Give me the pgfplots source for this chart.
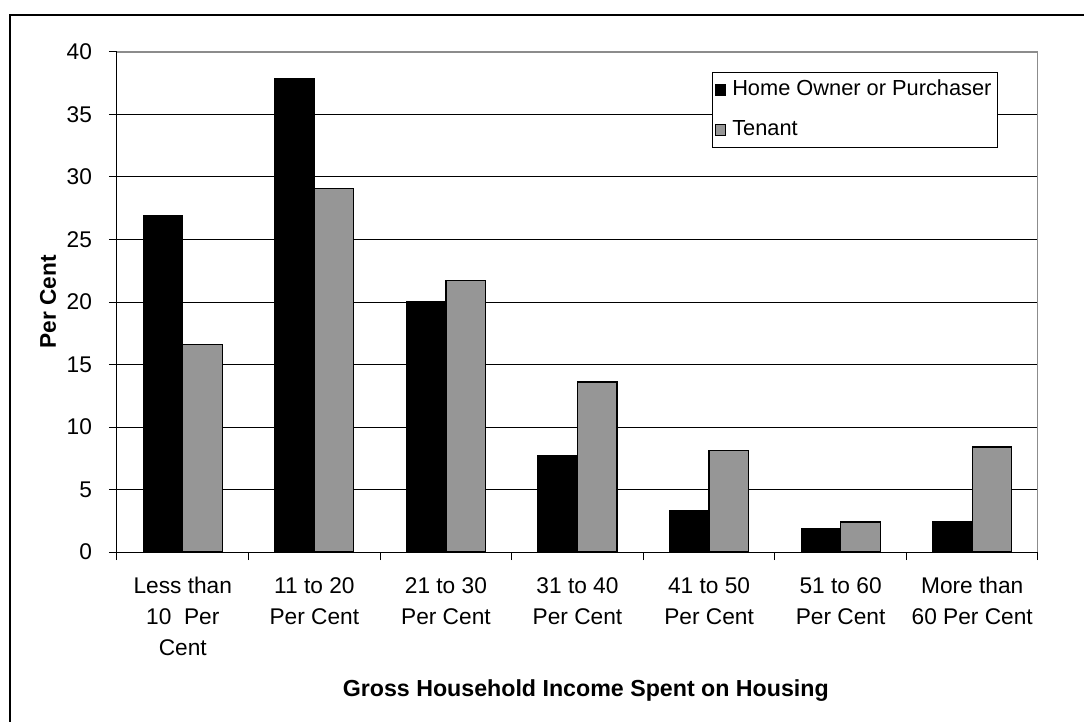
\documentclass[border=0pt]{standalone}
\usepackage{pgfplots}
\pgfplotsset{compat=1.18}
\usepackage{fontspec}
\setmainfont{Liberation Sans}
\definecolor{bargray}{RGB}{150,150,150}
\definecolor{framegray}{RGB}{140,140,140}
\begin{document}
\begin{tikzpicture}
\useasboundingbox (0pt,0pt) rectangle (542pt,-361pt);
\draw[line width=1pt] (5pt,-370pt) -- (5pt,-7.5pt) -- (550pt,-7.5pt);
\begin{axis}[
  at={(58.5pt,-276pt)}, anchor=south west,
  scale only axis, width=460.5pt, height=250pt,
  xmin=-0.5, xmax=6.5, ymin=0, ymax=40,
  ytick={0,5,...,40},
  xtick={-0.5,0.5,...,6.5},
  xticklabels={},
  extra x ticks={0,1,2,3,4,5,6},
  extra x tick labels={{Less than\\10\ \ Per\\Cent},{11 to 20\\Per Cent},{21 to 30\\Per Cent},{31 to 40\\Per Cent},{41 to 50\\Per Cent},{51 to 60\\Per Cent},{More than\\60 Per Cent}},
  extra x tick style={major tick length=0pt, xticklabel style={align=center, yshift=-9.2pt, font=\fontsize{11.35}{15.5}\selectfont}},
  tick align=outside, major tick length=4pt,
  tick style={black, line width=0.5pt},
  axis x line*=bottom, axis y line*=left,
  axis line style={black, line width=0.5pt},
  ymajorgrids, grid style={black, line width=0.5pt},
  yticklabel style={xshift=-5pt, font=\fontsize{11.35}{14}\selectfont},
  /pgf/number format/assume math mode=true,
  ybar, bar width=0.3,
  ylabel={\bfseries Per Cent},
  ylabel style={at={(axis description cs:-0.0749,0.5)}, anchor=center, rotate=0, font=\fontsize{11.35}{14}\selectfont},
  xlabel={\bfseries Gross Household Income Spent on Housing},
  xlabel style={at={(axis description cs:0.509,-0.29)}, anchor=base, font=\fontsize{11.6}{14}\selectfont},
  legend style={at={(axis description cs:0.9566,0.96)}, anchor=north east, draw=black, line width=0.5pt, inner sep=1.5pt, row sep=5.5pt,
    font=\fontsize{10.9}{14}\selectfont,
    nodes={text height=8pt, text depth=2.5pt, inner ysep=2pt, inner xsep=1.5pt},
    /tikz/every odd column/.append style={column sep=1.5pt},
    /tikz/every even column/.append style={column sep=3pt}},
  legend cell align=left,
  legend image code/.code={\draw[#1, line width=0.4pt] (0pt,-2.6pt) rectangle (5pt,2.6pt);},
]
\addplot[fill=black, draw=black, line width=0.6pt, bar shift=-0.15] coordinates {
  (0,26.9) (1,37.9) (2,20.0) (3,7.7) (4,3.3) (5,1.9) (6,2.4)};
\addplot[fill=bargray, draw=black, line width=0.6pt, bar shift=0.15] coordinates {
  (0,16.6) (1,29.1) (2,21.7) (3,13.6) (4,8.1) (5,2.4) (6,8.4)};
\legend{Home Owner or Purchaser, Tenant}
\draw[framegray, line width=0.6pt] (axis description cs:0,1) -- (axis description cs:1,1) -- (axis description cs:1,0);
\end{axis}
\end{tikzpicture}
\end{document}
